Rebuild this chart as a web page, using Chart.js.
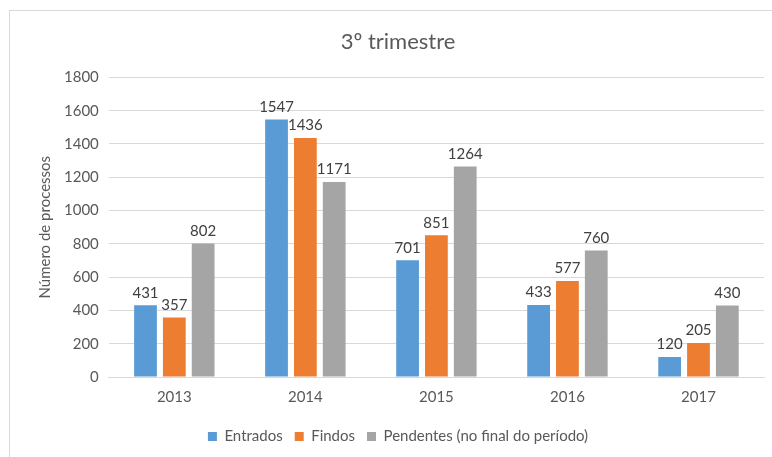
<!DOCTYPE html>
<html>
<head>
<meta charset="utf-8">
<script src="https://cdn.jsdelivr.net/npm/chart.js@4"></script>
<style>
  html, body { margin: 0; padding: 0; background: #fff; }
  #wrap { position: absolute; left: 0; top: 0; width: 772px; height: 457px; }
  #frame { position: absolute; left: 9px; top: 10px; width: 800px; height: 500px; border: 1px solid #d9d9d9; }
</style>
</head>
<body>
<div id="frame"></div>
<div id="wrap"><canvas id="c" width="772" height="457"></canvas></div>
<script>
// anos e valores
const anos = ['2013', '2014', '2015', '2016', '2017'];
const entrados = [431, 1547, 701, 433, 120];
const findos = [357, 1436, 851, 577, 205];
const pendentes = [802, 1171, 1264, 760, 430];

const fonte = 'Lato, "Open Sans", sans-serif';

// etiquetas de valor por cima das barras
const valueLabels = {
  id: 'valueLabels',
  afterDatasetsDraw(chart) {
    const ctx = chart.ctx;
    ctx.save();
    ctx.font = '15px ' + fonte;
    ctx.fillStyle = '#404040';
    ctx.textAlign = 'center';
    ctx.textBaseline = 'bottom';
    chart.data.datasets.forEach((ds, i) => {
      chart.getDatasetMeta(i).data.forEach((bar, j) => {
        ctx.fillText(ds.data[j], bar.x, bar.y - 5);
      });
    });
    ctx.restore();
  }
};

new Chart(document.getElementById('c'), {
  type: 'bar',
  data: {
    labels: anos,
    datasets: [
      { label: 'Entrados', data: entrados, backgroundColor: '#5b9bd5' },
      { label: 'Findos', data: findos, backgroundColor: '#ed7d31' },
      { label: 'Pendentes (no final do período)', data: pendentes, backgroundColor: '#a5a5a5' }
    ]
  },
  options: {
    responsive: false,
    animation: false,
    layout: { padding: { left: 32, right: 8, top: 21, bottom: 3 } },
    datasets: { bar: { categoryPercentage: 0.66, barPercentage: 0.79 } },
    plugins: {
      title: {
        display: true,
        text: '3º trimestre',
        color: '#595959',
        font: { family: fonte, size: 22, weight: 'normal' },
        padding: { top: 8, bottom: 22 }
      },
      legend: {
        position: 'bottom',
        labels: {
          color: '#595959',
          font: { family: fonte, size: 15 },
          boxWidth: 9,
          boxHeight: 9,
          padding: 12
        }
      },
      tooltip: { enabled: false }
    },
    scales: {
      x: {
        grid: { display: false },
        border: { color: '#d9d9d9' },
        ticks: { color: '#595959', font: { family: fonte, size: 15 }, padding: 3 },
        afterFit: axis => { axis.height += 8; }
      },
      y: {
        min: 0,
        max: 1800,
        ticks: {
          stepSize: 200,
          color: '#595959',
          font: { family: fonte, size: 15 },
          padding: 10,
          callback: v => String(v)
        },
        grid: { color: '#d9d9d9', drawTicks: false },
        border: { display: false },
        title: {
          display: true,
          text: 'Número de processos',
          color: '#595959',
          font: { family: fonte, size: 15 },
          padding: { top: 4, bottom: 0 }
        }
      }
    }
  },
  plugins: [valueLabels]
});
</script>
</body>
</html>
